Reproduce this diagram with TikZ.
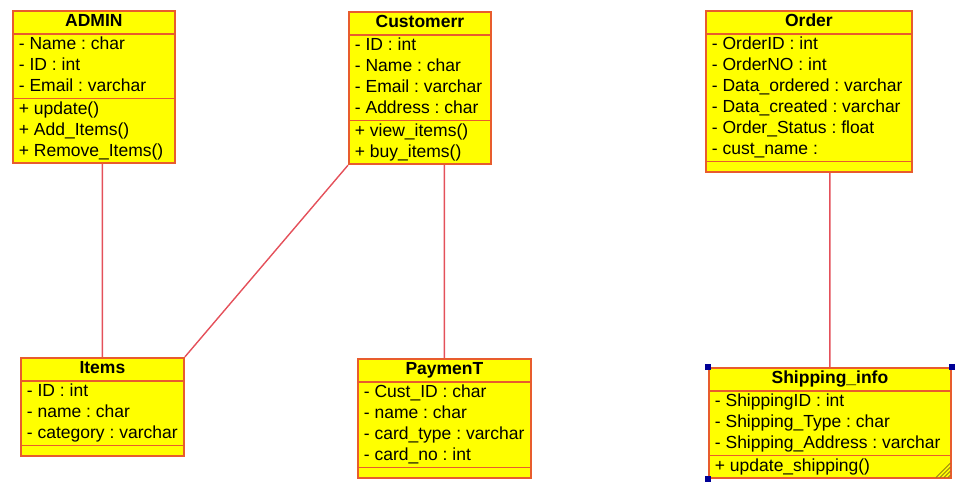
\documentclass[tikz,border=0pt]{standalone}
\usepackage{fontspec}
\setmainfont{Liberation Sans}
\usetikzlibrary{shapes.multipart,positioning}
\definecolor{classfill}{RGB}{255,255,0}
\definecolor{classedge}{RGB}{232,92,45}
\definecolor{linkred}{RGB}{228,80,90}
\definecolor{handle}{RGB}{0,0,150}
\definecolor{hatchcol}{RGB}{150,130,20}

\begin{document}
\frenchspacing
\begin{tikzpicture}[x=1pt,y=-1pt,
    umlclass/.style={rectangle split, rectangle split parts=3, draw=classedge, fill=classfill,
      line width=1.8pt, anchor=north west, inner xsep=6pt, inner ysep=0pt, align=left,
      rectangle split part align={center,left,left}, rectangle split empty part height=9pt,
      font=\fontsize{17.5}{21}\selectfont},
    link/.style={draw=linkred, line width=1.4pt}]
                            \useasboundingbox (0,0) rectangle (958,487);
                            \node[umlclass, minimum width=162pt] (admin) at (12,10)
                            {\strut\textbf{ADMIN}
                            \nodepart{second}\strut- Name : char\\\strut- ID : int\\\strut- Email : varchar
                            \nodepart{third}\strut+ update()\\\strut+ Add\_Items()\\\strut+ Remove\_Items()};
                            \node[umlclass, minimum width=142pt] (customer) at (348,11)
                            {\strut\textbf{Customerr}
                            \nodepart{second}\strut- ID : int\\\strut- Name : char\\\strut- Email : varchar\\\strut- Address : char
                            \nodepart{third}\strut+ view\_items()\\\strut+ buy\_items()};
                            \node[umlclass, minimum width=206pt] (order) at (705,10)
                            {\strut\textbf{Order}
                            \nodepart{second}\strut- OrderID : int\\\strut- OrderNO : int\\\strut- Data\_ordered : varchar\\\strut- Data\_created : varchar\\\strut- Order\_Status : float\\\strut- cust\_name :
                            \nodepart{third}};
                            \node[umlclass, minimum width=163pt] (items) at (20,357)
                            {\strut\textbf{Items}
                            \nodepart{second}\strut- ID : int\\\strut- name : char\\\strut- category : varchar
                            \nodepart{third}};
                            \node[umlclass, minimum width=173pt] (payment) at (357,358)
                            {\strut\textbf{PaymenT}
                            \nodepart{second}\strut- Cust\_ID : char\\\strut- name : char\\\strut- card\_type : varchar\\\strut- card\_no : int
                            \nodepart{third}};
                            \node[umlclass, minimum width=242pt] (shipping) at (708,367)
                            {\strut\textbf{Shipping\_info}
                            \nodepart{second}\strut- ShippingID : int\\\strut- Shipping\_Type : char\\\strut- Shipping\_Address : varchar
                            \nodepart{third}\strut+ update\_shipping()};
                            \path[link]
                            (items.north) -- (items.north |- admin.south)
                            (customer.south west) -- (items.north east)
                            (payment.north) -- (payment.north |- customer.south)
                            (shipping.north) -- (shipping.north |- order.south);
                            % selection marks on Shipping_info
                            \foreach \c in {north west,north east,south west}
                            \fill[handle] ([shift={(-3,-3)}]shipping.\c) rectangle +(6,6);
                            \foreach \d in {4,8,12,16}
                            \draw[hatchcol, line width=0.9pt] ([shift={(-\d,-1.5)}]shipping.south east) -- ([shift={(-1.5,-\d)}]shipping.south east);
                        \end{tikzpicture}
\end{document}
